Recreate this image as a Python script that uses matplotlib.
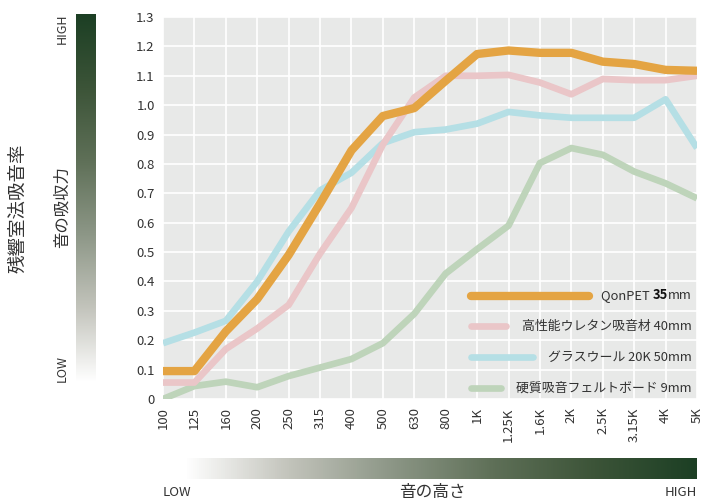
import numpy as np
import matplotlib
matplotlib.use('Agg')
import matplotlib.pyplot as plt
from matplotlib.colors import LinearSegmentedColormap

plt.rcParams['font.family'] = ['Noto Sans CJK JP', 'DejaVu Sans']

# frequency bands (Hz)
freqs = ['100', '125', '160', '200', '250', '315', '400', '500', '630', '800',
         '1K', '1.25K', '1.6K', '2K', '2.5K', '3.15K', '4K', '5K']

# absorption coefficients
qonpet = [0.095, 0.095, 0.23, 0.34, 0.49, 0.665, 0.846, 0.963, 0.99, 1.083,
          1.174, 1.186, 1.178, 1.178, 1.148, 1.14, 1.12, 1.117]
urethane = [0.056, 0.056, 0.17, 0.24, 0.32, 0.495, 0.65, 0.866, 1.026, 1.10,
            1.10, 1.103, 1.077, 1.037, 1.089, 1.085, 1.085, 1.10]
glasswool = [0.19, 0.226, 0.266, 0.40, 0.57, 0.71, 0.77, 0.871, 0.908, 0.917,
             0.937, 0.977, 0.965, 0.957, 0.957, 0.957, 1.02, 0.854]
felt = [0.0, 0.044, 0.059, 0.04, 0.078, 0.107, 0.136, 0.19, 0.29, 0.427,
        0.51, 0.59, 0.803, 0.854, 0.831, 0.774, 0.734, 0.683]

yticks = [0, 0.1, 0.2, 0.3, 0.4, 0.5, 0.6, 0.7, 0.8, 0.9, 1.0, 1.1, 1.2, 1.3]
ytick_labels = ['0', '0.1', '0.2', '0.3', '0.4', '0.5', '0.6', '0.7', '0.8',
                '0.9', '1.0', '1.1', '1.2', '1.3']

c_orange = '#E4A443'
c_pink = '#EAC6C8'
c_blue = '#B5DFE5'
c_green = '#BED4BA'
txt = '#333333'

W, H = 702, 503
fig = plt.figure(figsize=(W / 100, H / 100), dpi=100)
fig.patch.set_facecolor('white')

def px(x0, y0, x1, y1):
    # pixel box (top-left origin) -> figure fraction rect
    return [x0 / W, 1 - y1 / H, (x1 - x0) / W, (y1 - y0) / H]

ax = fig.add_axes(px(163, 17, 697, 399))
ax.set_facecolor('#E8E9E8')
for s in ax.spines.values():
    s.set_visible(False)

x = np.arange(len(freqs))
ax.plot(x, felt, color=c_green, lw=4.8, solid_capstyle='butt', zorder=3)
ax.plot(x, glasswool, color=c_blue, lw=4.8, solid_capstyle='butt', zorder=4)
ax.plot(x, urethane, color=c_pink, lw=4.8, solid_capstyle='butt', zorder=5)
ax.plot(x, qonpet, color=c_orange, lw=6, solid_capstyle='butt', zorder=6)

ax.set_xlim(0, len(freqs) - 1)
ax.set_ylim(0, 1.3)
ax.set_xticks(x)
ax.set_xticklabels(freqs, rotation=90, fontsize=9.5, color=txt)
ax.set_yticks(yticks)
ax.set_yticklabels(ytick_labels, fontsize=9.5, color=txt)
ax.tick_params(length=0, pad=6)
ax.grid(True, color='white', lw=1.2, zorder=1)
ax.set_axisbelow(True)

# legend drawn by hand: line segments of varying length, right-aligned labels
leg = [(0.352, 0.797, c_orange, 6), (0.248, 0.642, c_pink, 4.8),
       (0.142, 0.693, c_blue, 4.8), (0.038, 0.633, c_green, 4.8)]
for yy, xe, c, lw in leg:
    ax.plot([0.577, xe], [yy / 1.3, yy / 1.3], color=c, lw=lw,
            solid_capstyle='round', transform=ax.transAxes, zorder=7)

fs = 9.3
t1 = ax.text(0.99, 0.352 / 1.3, 'mm', ha='right', va='center',
             fontsize=fs, color=txt, transform=ax.transAxes, zorder=8)
t2 = ax.annotate('35', xy=(0, 0), xycoords=t1, ha='right', va='bottom',
                 fontsize=fs, color='#111111', weight='bold', zorder=8)
ax.annotate('QonPET ', xy=(0, 0), xycoords=t2, ha='right', va='bottom',
            fontsize=fs, color=txt, zorder=8)
ax.text(0.99, 0.248 / 1.3, '高性能ウレタン吸音材 40mm', ha='right', va='center',
        fontsize=fs, color=txt, transform=ax.transAxes, zorder=8)
ax.text(0.99, 0.142 / 1.3, 'グラスウール 20K 50mm', ha='right', va='center',
        fontsize=fs, color=txt, transform=ax.transAxes, zorder=8)
ax.text(0.99, 0.038 / 1.3, '硬質吸音フェルトボード 9mm', ha='right', va='center',
        fontsize=fs, color=txt, transform=ax.transAxes, zorder=8)

# gradient bars
cmap = LinearSegmentedColormap.from_list(
    'grn', ['#ffffff', '#c3c4bc', '#8d9787', '#5f7058', '#3c5438', '#1c3f24'])
grad = np.linspace(0, 1, 256)

vb = fig.add_axes(px(76, 14, 96, 382))
vb.imshow(grad[::-1, None], aspect='auto', cmap=cmap)
vb.axis('off')

hb = fig.add_axes(px(185, 458, 697, 479))
hb.imshow(grad[None, :], aspect='auto', cmap=cmap)
hb.axis('off')

# labels around the bars
fig.text(62 / W, 1 - 14 / H, 'HIGH', rotation=90, ha='center', va='top',
         fontsize=9, color=txt)
fig.text(62 / W, 1 - 382 / H, 'LOW', rotation=90, ha='center', va='bottom',
         fontsize=9, color=txt)
fig.text(62 / W, 1 - 207 / H, '音の吸収力', rotation=90, ha='center',
         va='center', fontsize=11.8, color=txt)
fig.text(18 / W, 1 - 208 / H, '残響室法吸音率', rotation=90, ha='center',
         va='center', fontsize=13.3, color=txt)

fig.text(163 / W, 1 - 493 / H, 'LOW', ha='left', va='center', fontsize=9.5,
         color=txt)
fig.text(697 / W, 1 - 493 / H, 'HIGH', ha='right', va='center', fontsize=9.5,
         color=txt)
fig.text(432 / W, 1 - 493 / H, '音の高さ', ha='center', va='center',
         fontsize=12, color=txt)

fig.savefig('out.png', dpi=100)
